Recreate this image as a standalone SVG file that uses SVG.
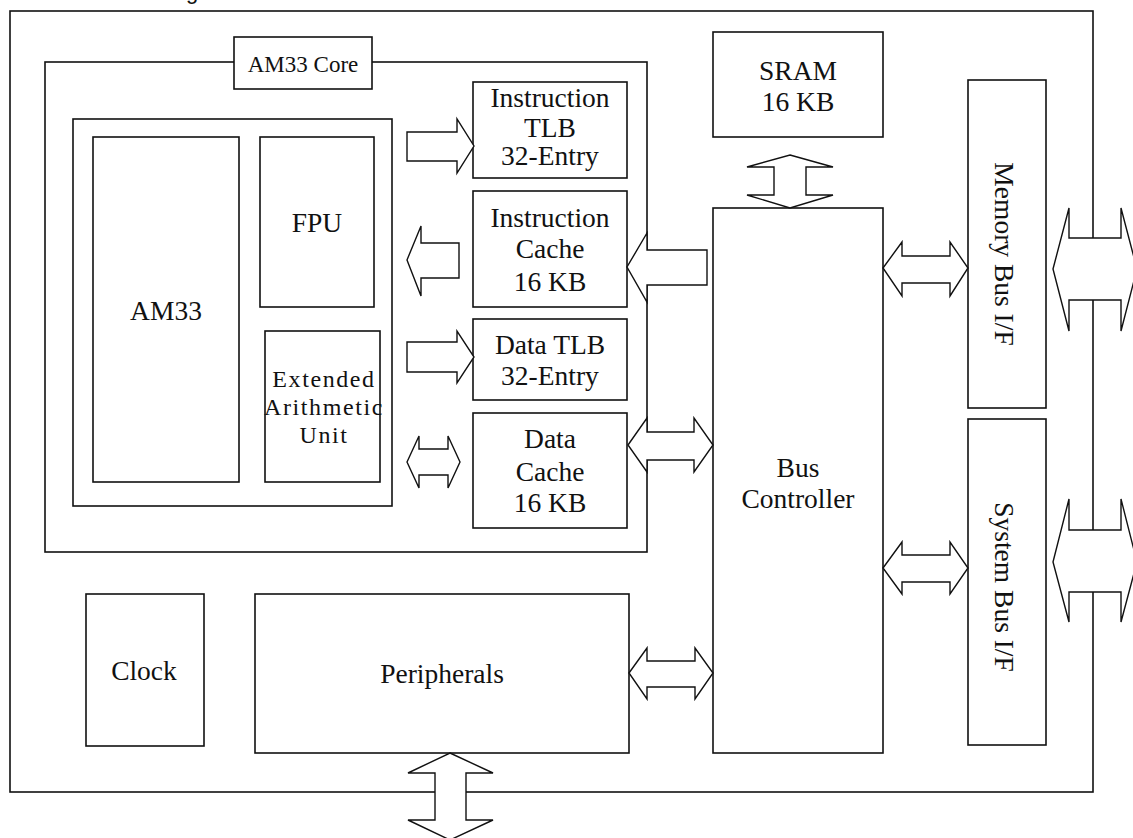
<svg xmlns="http://www.w3.org/2000/svg" width="1133" height="838" viewBox="0 0 1133 838">
<defs>
<style>
.box{fill:#fff;stroke:#111;stroke-width:1.6}
.frame{fill:none;stroke:#111;stroke-width:1.6}
.arr{fill:#fff;stroke:#111;stroke-width:1.4;stroke-linejoin:miter}
.t{font-family:"Liberation Serif","Times New Roman",serif;font-size:27.5px;fill:#111;text-anchor:middle}
.lbl{font-family:"Liberation Serif","Times New Roman",serif;font-size:23px;fill:#111;text-anchor:middle}
.ext{font-family:"Liberation Serif","Times New Roman",serif;font-size:24px;fill:#111;text-anchor:middle;letter-spacing:1.6px}
.cap{font-family:"Liberation Sans",Arial,sans-serif;font-size:22px;fill:#111}
</style>
</defs>
<rect width="1133" height="838" fill="#fff"/>
<text class="cap" x="186" y="-1">g</text>
<g id="chip"><rect class="frame" x="10" y="11" width="1083" height="781"/></g>
<g id="am33core">
<rect class="frame" x="45" y="62" width="602" height="490"/>
<rect class="box" x="234" y="37" width="138" height="52"/>
<text class="lbl" x="303" y="72">AM33 Core</text>
</g>
<g id="cpu"><rect class="frame" x="73" y="119" width="319" height="387"/></g>
<g id="am33"><rect class="box" x="93" y="137" width="146" height="345"/><text class="t" x="166" y="320">AM33</text></g>
<g id="fpu"><rect class="box" x="260" y="137" width="114" height="170"/><text class="t" x="317" y="232">FPU</text></g>
<g id="eau"><rect class="box" x="265" y="331" width="115" height="151"/>
<text class="ext" x="324" y="387">Extended</text><text class="ext" x="324" y="415">Arithmetic</text><text class="ext" x="324" y="443">Unit</text></g>
<g id="itlb"><rect class="box" x="473" y="82" width="154" height="96"/>
<text class="t" x="550" y="107">Instruction</text><text class="t" x="550" y="137">TLB</text><text class="t" x="550" y="165">32-Entry</text></g>
<g id="icache"><rect class="box" x="473" y="191" width="154" height="116"/>
<text class="t" x="550" y="227">Instruction</text><text class="t" x="550" y="258">Cache</text><text class="t" x="550" y="291">16 KB</text></g>
<g id="dtlb"><rect class="box" x="473" y="319" width="154" height="81"/>
<text class="t" x="550" y="354">Data TLB</text><text class="t" x="550" y="385">32-Entry</text></g>
<g id="dcache"><rect class="box" x="473" y="413" width="154" height="115"/>
<text class="t" x="550" y="448">Data</text><text class="t" x="550" y="481">Cache</text><text class="t" x="550" y="512">16 KB</text></g>
<g id="sram"><rect class="box" x="713" y="32" width="170" height="105"/>
<text class="t" x="798" y="80">SRAM</text><text class="t" x="798" y="111">16 KB</text></g>
<g id="busctrl"><rect class="box" x="713" y="208" width="170" height="545"/>
<text class="t" x="798" y="477">Bus</text><text class="t" x="798" y="508">Controller</text></g>
<g id="membus"><rect class="box" x="968" y="80" width="78" height="328"/>
<text class="t" transform="translate(995,254) rotate(90)">Memory Bus I/F</text></g>
<g id="sysbus"><rect class="box" x="968" y="419" width="78" height="326"/>
<text class="t" transform="translate(995,587) rotate(90)">System Bus I/F</text></g>
<g id="clock"><rect class="box" x="86" y="594" width="118" height="152"/><text class="t" x="144" y="680">Clock</text></g>
<g id="periph"><rect class="box" x="255" y="594" width="374" height="159"/><text class="t" x="442" y="683">Peripherals</text></g>
<g id="connectors">
<path class="arr" d="M407,132 L457,132 L457,119 L474,146 L457,173 L457,161 L407,161 Z"/>
<path class="arr" d="M459,243 L421,243 L421,226 L407,260 L421,296 L421,278 L459,278 Z"/>
<path class="arr" d="M407,342 L457,342 L457,331 L474,357 L457,383 L457,372 L407,372 Z"/>
<path class="arr" d="M407,462 L419,436 L419,449 L448,449 L448,436 L460,462 L448,488 L448,475 L419,475 L419,488 Z"/>
<path class="arr" d="M707,250 L647,250 L647,233 L627,267 L647,302 L647,285 L707,285 Z"/>
<path class="arr" d="M628,445 L647,418 L647,432 L694,432 L694,418 L713,445 L694,472 L694,460 L647,460 L647,472 Z"/>
<path class="arr" d="M790,155 L833,167 L806,167 L806,195 L833,195 L790,208 L747,195 L774,195 L774,167 L747,167 Z"/>
<path class="arr" d="M883,268 L902,242 L902,256 L950,256 L950,242 L968,268 L950,296 L950,283 L902,283 L902,296 Z"/>
<path class="arr" d="M883,568 L902,542 L902,555 L950,555 L950,542 L968,568 L950,594 L950,582 L902,582 L902,594 Z"/>
<path class="arr" d="M629,673 L647,648 L647,661 L695,661 L695,648 L713,673 L695,699 L695,687 L647,687 L647,699 Z"/>
<path class="arr" d="M450,753 L493,773 L466,773 L466,820 L493,820 L450,840 L408,820 L435,820 L435,773 L408,773 Z"/>
<path class="arr" d="M1053,269 L1069,208 L1069,238 L1121,238 L1121,208 L1137,269 L1121,331 L1121,300 L1069,300 L1069,331 Z"/>
<path class="arr" d="M1053,562 L1069,499 L1069,530 L1121,530 L1121,499 L1137,562 L1121,622 L1121,592 L1069,592 L1069,622 Z"/>
</g>
</svg>
